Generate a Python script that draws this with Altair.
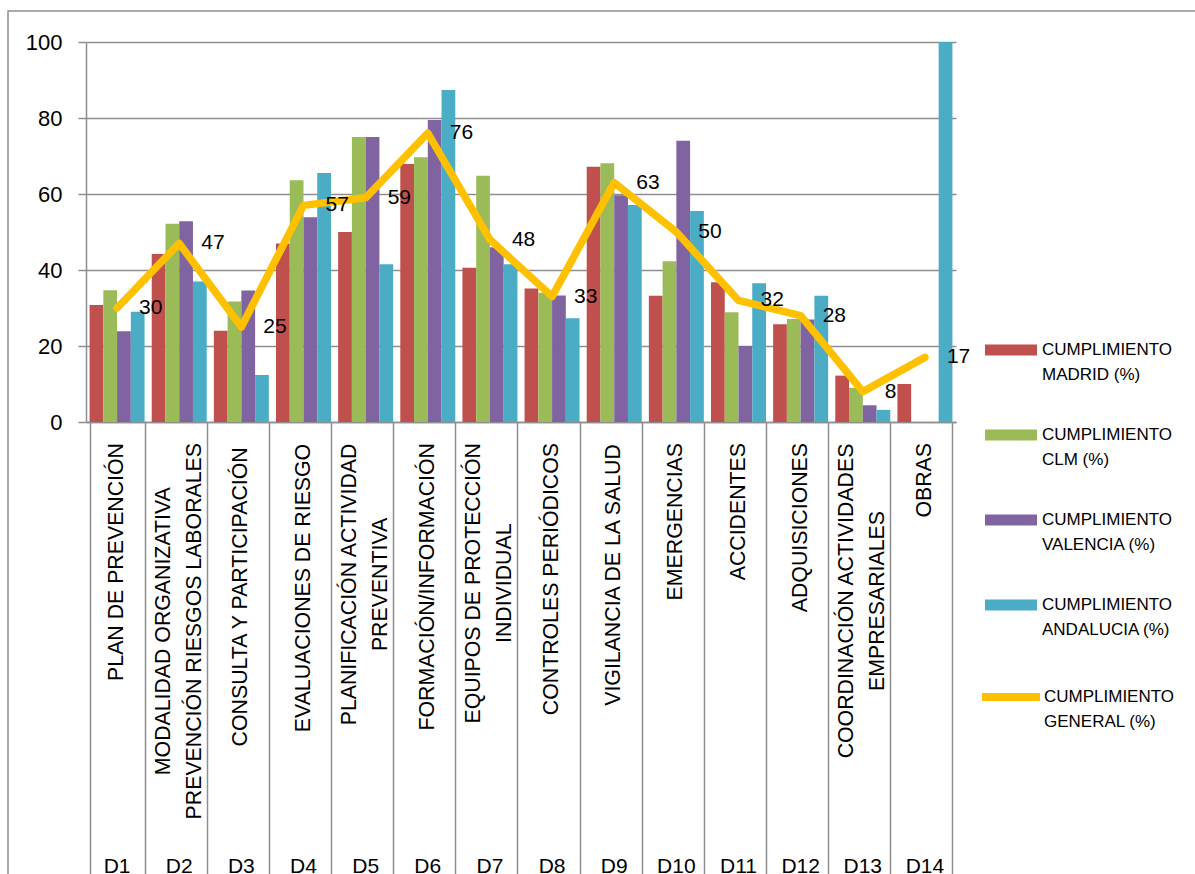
import altair as alt
import pandas as pd

# Apartados evaluados
codigos = ["D1", "D2", "D3", "D4", "D5", "D6", "D7", "D8", "D9", "D10", "D11", "D12", "D13", "D14"]
apartados = [
    "PLAN DE PREVENCIÓN",
    "MODALIDAD ORGANIZATIVA\nPREVENCIÓN RIESGOS LABORALES",
    "CONSULTA Y PARTICIPACIÓN",
    "EVALUACIONES DE RIESGO",
    "PLANIFICACIÓN ACTIVIDAD\nPREVENTIVA",
    "FORMACIÓN/INFORMACIÓN",
    "EQUIPOS DE PROTECCIÓN\nINDIVIDUAL",
    "CONTROLES PERIÓDICOS",
    "VIGILANCIA DE LA SALUD",
    "EMERGENCIAS",
    "ACCIDENTES",
    "ADQUISICIONES",
    "COORDINACIÓN ACTIVIDADES\nEMPRESARIALES",
    "OBRAS",
]

# Cumplimiento por comunidad (%)
madrid = [30.8, 44.2, 24.0, 47.0, 50.0, 67.9, 40.6, 35.1, 67.2, 33.2, 36.8, 25.7, 12.2, 10.0]
clm = [34.7, 52.2, 31.7, 63.6, 75.0, 69.7, 64.8, 34.0, 68.1, 42.3, 28.9, 27.1, 9.0, None]
valencia = [23.9, 52.8, 34.6, 53.9, 75.0, 79.5, 46.0, 33.3, 59.7, 74.0, 20.0, 27.0, 4.4, None]
andalucia = [29.0, 37.0, 12.4, 65.5, 41.5, 87.4, 41.5, 27.3, 57.1, 55.5, 36.5, 33.2, 3.2, 100.0]
general = [30, 47, 25, 57, 59, 76, 48, 33, 63, 50, 32, 28, 8, 17]

series = [
    "CUMPLIMIENTO MADRID (%)",
    "CUMPLIMIENTO CLM (%)",
    "CUMPLIMIENTO VALENCIA (%)",
    "CUMPLIMIENTO ANDALUCIA (%)",
]
colores = ["#C0504D", "#9BBB59", "#8064A2", "#4BACC6"]
serie_general = "CUMPLIMIENTO GENERAL (%)"
color_general = "#FFC000"

FUENTE = "Liberation Sans, Arial, sans-serif"
GRIS = "#8e8e8e"
ALTO = 380            # alto del área de trazado
ARRIBA_NOMBRES = 401  # extremo superior de los rótulos girados
TAM_NOMBRES = 21.3
INTERLINEA_NOMBRES = 31

# Anchuras de glifo (Arial / Liberation Sans, milésimas de em) para centrar los rótulos girados
ANCHO = {
    " ": 278, "/": 278, "A": 667, "B": 667, "C": 722, "D": 722, "E": 667, "F": 611,
    "G": 778, "H": 722, "I": 278, "J": 500, "K": 667, "L": 556, "M": 833, "N": 722,
    "O": 778, "P": 667, "Q": 778, "R": 722, "S": 667, "T": 611, "U": 722, "V": 667,
    "W": 944, "X": 667, "Y": 667, "Z": 611, "Ó": 778, "Í": 278, "É": 667, "Á": 667,
}


def largo(texto, tam=TAM_NOMBRES):
    return max(sum(ANCHO.get(c, 667) for c in linea) for linea in texto.split("\n")) / 1000 * tam


filas = []
for i, cod in enumerate(codigos):
    for serie, vals in zip(series, [madrid, clm, valencia, andalucia]):
        if vals[i] is not None:
            filas.append({"cod": cod, "serie": serie, "valor": vals[i]})
df_barras = pd.DataFrame(filas)

df_general = pd.DataFrame({"cod": codigos, "valor": general, "serie": serie_general})
df_nombres = pd.DataFrame({
    "cod": codigos,
    "nombre": apartados,
    "lineas": [t.count("\n") + 1 for t in apartados],
    "ypos": [ARRIBA_NOMBRES + largo(t) / 2 for t in apartados],
})

x_enc = alt.X(
    "cod:N",
    sort=codigos,
    scale=alt.Scale(domain=codigos, paddingInner=0.115, paddingOuter=0.0575),
    axis=alt.Axis(
        title=None, labels=False, grid=False,
        domain=True, domainColor=GRIS, domainWidth=1.5,
        ticks=True, tickBand="extent", tickSize=470, tickColor=GRIS, tickWidth=1.5,
    ),
)
y_escala = alt.Scale(domain=[0, 100], nice=False, zero=True)
y_pixeles = alt.Scale(domain=[0, ALTO], range=[0, ALTO], nice=False, zero=False)

leyenda_comun = dict(
    title=None, orient="none", padding=0,
    labelFont=FUENTE, labelFontSize=17, labelColor="black", labelLimit=400,
    labelExpr="['CUMPLIMIENTO', replace(datum.label, 'CUMPLIMIENTO ', '')]",
)

borde = alt.Chart(alt.Data(values=[{}])).mark_rect(
    fillOpacity=0, stroke=GRIS, strokeWidth=1.5
).encode(
    x=alt.value(-78), x2=alt.value(1300), y=alt.value(-31), y2=alt.value(900)
)

barras = alt.Chart(df_barras).mark_bar().encode(
    x=x_enc,
    xOffset=alt.XOffset("serie:N", sort=series,
                        scale=alt.Scale(domain=series, paddingInner=0, paddingOuter=0)),
    y=alt.Y(
        "valor:Q", scale=y_escala,
        axis=alt.Axis(
            title=None, values=[0, 20, 40, 60, 80, 100], grid=True,
            gridColor=GRIS, gridWidth=1.5, domainColor=GRIS, domainWidth=1.5,
            tickColor=GRIS, tickWidth=1.5, tickSize=8,
            labelFont=FUENTE, labelFontSize=22, labelColor="black", labelPadding=16,
        ),
    ),
    color=alt.Color(
        "serie:N", sort=series,
        scale=alt.Scale(domain=series, range=colores),
        legend=alt.Legend(
            legendX=899, legendY=282,
            symbolType="M-1,-0.21L1,-0.21L1,0.21L-1,0.21Z", symbolSize=2704,
            symbolStrokeWidth=0, labelOffset=5, rowPadding=26,
            **leyenda_comun,
        ),
    ),
)

linea = alt.Chart(df_general).mark_line(
    strokeWidth=7.5, strokeCap="round", strokeJoin="round"
).encode(
    x=x_enc,
    y=alt.Y("valor:Q", scale=y_escala, axis=None),
    stroke=alt.Stroke(
        "serie:N",
        scale=alt.Scale(domain=[serie_general], range=[color_general]),
        legend=alt.Legend(
            legendX=892, legendY=622,
            symbolType="stroke", symbolSize=3364, symbolStrokeWidth=8,
            labelOffset=0,
            **leyenda_comun,
        ),
    ),
)

valores = alt.Chart(df_general).mark_text(
    align="left", baseline="middle", dx=22, font=FUENTE, fontSize=21, color="black"
).encode(
    x=x_enc,
    y=alt.Y("valor:Q", scale=y_escala, axis=None),
    text=alt.Text("valor:Q", format="d"),
)


def capa_nombres(n_lineas, desplazamiento):
    return alt.Chart(df_nombres).transform_filter(
        alt.datum.lineas == n_lineas
    ).mark_text(
        angle=270, align="center", baseline="middle", lineBreak="\n",
        lineHeight=INTERLINEA_NOMBRES, dy=desplazamiento,
        font=FUENTE, fontSize=TAM_NOMBRES, color="black",
    ).encode(
        x=x_enc,
        y=alt.Y("ypos:Q", scale=y_pixeles, axis=None),
        text="nombre:N",
    )


nombres_1 = capa_nombres(1, 0)
nombres_2 = capa_nombres(2, -INTERLINEA_NOMBRES / 2)

rotulos = alt.Chart(df_general).mark_text(
    baseline="alphabetic", font=FUENTE, fontSize=21, color="black"
).encode(
    x=x_enc,
    y=alt.value(831),
    text="cod:N",
)

chart = (
    alt.layer(borde, barras, linea, valores, nombres_1, nombres_2, rotulos)
    .resolve_scale(y="independent")
    .properties(
        width=870, height=ALTO,
        autosize=alt.AutoSizeParams(type="none"),
        padding={"left": 86, "top": 42, "right": 239, "bottom": 452},
        background="white",
    )
    .configure(style={"guide-label": {"lineHeight": 25}})
    .configure_view(strokeWidth=0)
)

chart.save("out.html", embed_options={"renderer": "svg", "actions": False})
